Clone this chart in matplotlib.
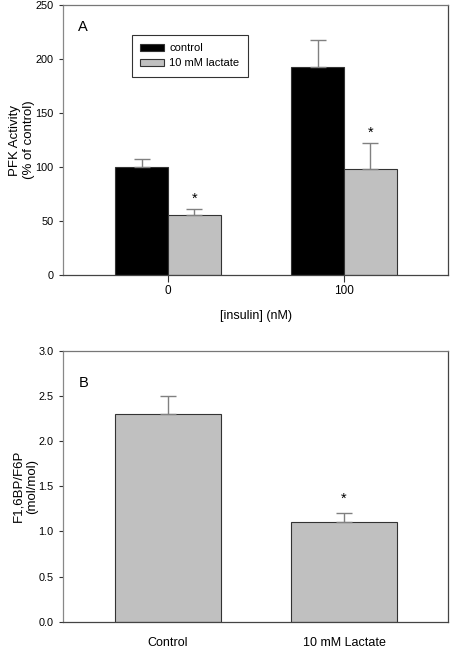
import matplotlib
matplotlib.use("Agg")
import matplotlib.pyplot as plt
import numpy as np

plt.rcParams['font.family'] = ['Liberation Sans', 'DejaVu Sans']

# Panel A data
insulin_labels = ['0', '100']
control_vals = [100.0, 192.5]
control_err = [7.5, 25.0]
lactate_vals = [56.0, 98.5]
lactate_err = [5.0, 24.0]

# Panel B data
b_labels = ['Control', '10 mM Lactate']
b_vals = [2.30, 1.10]
b_err = [0.20, 0.10]

GRAY = '#c0c0c0'
EDGE = '#333333'
ERRC = '#808080'

fig = plt.figure(figsize=(4.5, 6.48), dpi=100)
axA = fig.add_axes([0.14, 0.5756, 0.8556, 0.4167])
axB = fig.add_axes([0.14, 0.0406, 0.8556, 0.4182])

x = np.arange(len(insulin_labels))
w = 0.3
axA.bar(x - w/2, control_vals, w, color='black', edgecolor=EDGE, linewidth=0.8, label='control')
axA.bar(x + w/2, lactate_vals, w, color=GRAY, edgecolor=EDGE, linewidth=0.8, label='10 mM lactate')
axA.errorbar(x - w/2, control_vals, yerr=[np.zeros(2), control_err], fmt='none',
             ecolor=ERRC, elinewidth=1.0, capsize=5.5, capthick=1.0)
axA.errorbar(x + w/2, lactate_vals, yerr=[np.zeros(2), lactate_err], fmt='none',
             ecolor=ERRC, elinewidth=1.0, capsize=5.5, capthick=1.0)
for xi, v, e in zip(x + w/2, lactate_vals, lactate_err):
    axA.text(xi, v + e + 3, '*', ha='center', va='bottom', fontsize=10.5)
axA.set_xlim(-0.597, 1.591)
axA.set_ylim(0, 250)
axA.set_yticks([0, 50, 100, 150, 200, 250])
axA.set_xticks(x)
axA.set_xticklabels(insulin_labels)
axA.set_ylabel('PFK Activity\n(% of control)', fontsize=9.5, labelpad=0, linespacing=1.2)
axA.set_xlabel('[insulin] (nM)', fontsize=9, labelpad=9)
axA.text(0.04, 0.92, 'A', transform=axA.transAxes, fontsize=10.5, va='center', ha='left')
leg = axA.legend(loc='upper left', bbox_to_anchor=(0.179, 0.889), fontsize=8, frameon=True,
                 fancybox=False, edgecolor='black', handlelength=2.1, handleheight=0.65,
                 borderpad=0.75, labelspacing=0.45, handletextpad=0.5, borderaxespad=0)
leg.get_frame().set_linewidth(0.8)

xb = np.arange(len(b_labels))
wb = 0.6
axB.bar(xb, b_vals, wb, color=GRAY, edgecolor=EDGE, linewidth=0.8)
axB.errorbar(xb, b_vals, yerr=[np.zeros(2), b_err], fmt='none',
             ecolor=ERRC, elinewidth=1.0, capsize=5.5, capthick=1.0)
axB.text(xb[1], b_vals[1] + b_err[1] + 0.08, '*', ha='center', va='bottom', fontsize=10.5)
axB.set_xlim(-0.597, 1.591)
axB.set_ylim(0, 3.0)
yb = np.arange(0, 3.01, 0.5)
axB.set_yticks(yb)
axB.set_yticklabels(['%.1f' % v for v in yb])
axB.set_xticks(xb)
axB.set_xticklabels(b_labels)
axB.set_ylabel('F1,6BP/F6P\n(mol/mol)', fontsize=9.5, labelpad=0, linespacing=1.2)
axB.text(0.04, 0.88, 'B', transform=axB.transAxes, fontsize=10.5, va='center', ha='left')

for ax in (axA, axB):
    ax.tick_params(axis='y', labelsize=7.8, length=3, width=0.8, color='#333333', pad=4)
    for s in ax.spines.values():
        s.set_linewidth(0.9)
        s.set_color('#444444')
    ax.spines['left'].set_color('#888888')
    ax.spines['top'].set_color('#777777')
axA.tick_params(axis='x', labelsize=8.5, direction='out', length=5, width=0.8, color='#333333', pad=2.5)
axB.tick_params(axis='x', labelsize=9, length=0, pad=11)

fig.savefig('out.png', dpi=100)
